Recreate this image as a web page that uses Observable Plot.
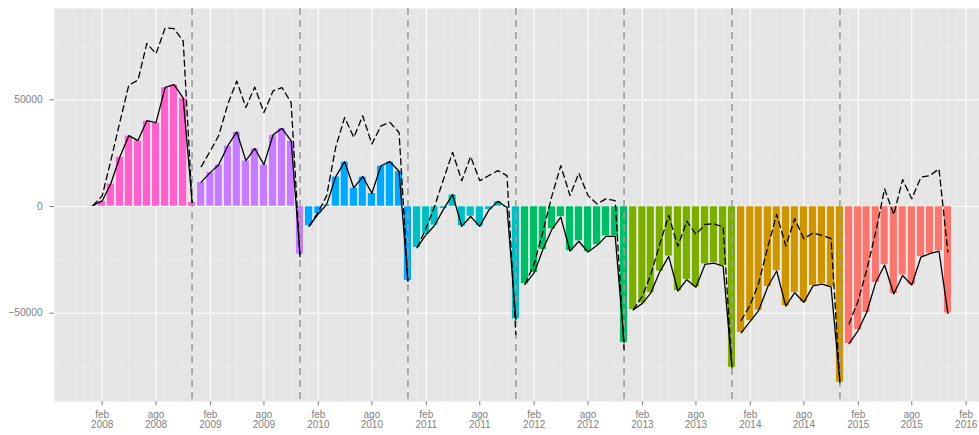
<!DOCTYPE html>
<html>
<head>
<meta charset="utf-8">
<script src="https://cdn.jsdelivr.net/npm/d3@7"></script>
<script src="https://cdn.jsdelivr.net/npm/@observablehq/plot@0.6"></script>
<style>
  html, body { margin: 0; padding: 0; background: #fff; }
  #chart svg { display: block; }
</style>
</head>
<body>
<div id="chart"></div>
<script>
// ---- data (monthly values) ----
const years = [2008, 2009, 2010, 2011, 2012, 2013, 2014, 2015];
const yearColors = ["#FF61CC", "#C77CFF", "#00A9FF", "#00BFC4", "#00BE67", "#7CAE00", "#CD9600", "#F8766D"];

// bars (= solid line), Jan..Dec
const solid2008 = [500, 2600, 10700, 23300, 33200, 30900, 40200, 39300, 55800, 57100, 50800, 2000];
const solid2009 = [11400, 16000, 19600, 28500, 35000, 21500, 27200, 19600, 33600, 36600, 30800, -22500];
const solid2010 = [-9200, -3400, 900, 14000, 21000, 8700, 14000, 6200, 19100, 21000, 16500, -34900];
const solid2011 = [-19300, -13100, -8900, -1100, 5600, -9300, -4700, -9300, -1600, 2400, -500, -52900];
const solid2012 = [-36400, -31100, -20300, -10700, -5000, -20900, -16300, -21300, -18200, -14000, -14000, -63800];
const solid2013 = [-48400, -45400, -40600, -30500, -23400, -39600, -34300, -37800, -27100, -26500, -28000, -75500];
const solid2014 = [-59200, -53700, -48800, -37600, -30200, -46700, -40400, -44900, -37200, -36400, -37700, -82500];
const solid2015 = [-64300, -58000, -49800, -35700, -27400, -41000, -32300, -36800, -23700, -22100, -20900, -50100];

// dashed line, Jan..Dec
const dashed2008 = [500, 5000, 21400, 39700, 56900, 59200, 76400, 71600, 83700, 83400, 77500, 2000];
const dashed2009 = [18700, 26100, 33200, 48000, 58800, 46400, 56000, 44000, 54200, 55700, 48700, -23500];
const dashed2010 = [-9200, -2500, 5000, 28000, 41700, 32400, 42500, 29300, 37800, 39400, 34700, -34900];
const dashed2011 = [-19300, -10000, 0, 13000, 25400, 12100, 23400, 12100, 14500, 16800, 14500, -60000];
const dashed2012 = [-36400, -27000, -12000, 5000, 19100, 5100, 15600, 5100, 1200, 3600, 2800, -67000];
const dashed2013 = [-48400, -42000, -32000, -17500, -4200, -18700, -6800, -13100, -8400, -8100, -9600, -75500];
const dashed2014 = [-53400, -46000, -36000, -19000, -3700, -18500, -5700, -15100, -12400, -13500, -15100, -82500];
const dashed2015 = [-55000, -44000, -30000, -12000, 8300, -3900, 12600, 3600, 13700, 14500, 17600, -21300];

// axis ticks and labels
const xTickLabels = ["feb\n2008", "ago\n2008", "feb\n2009", "ago\n2009", "feb\n2010", "ago\n2010",
  "feb\n2011", "ago\n2011", "feb\n2012", "ago\n2012", "feb\n2013", "ago\n2013",
  "feb\n2014", "ago\n2014", "feb\n2015", "ago\n2015", "feb\n2016"];
const xTickDates = xTickLabels.map((s, i) => new Date(Date.UTC(2008 + Math.floor(i / 2), i % 2 ? 7 : 1, 1)));
const yTicks = [-50000, 0, 50000];
const yTickLabels = ["\u221250000", "0", "50000"];
const yMinor = [-75000, -25000, 25000, 75000];
const breakDates = [2008, 2009, 2010, 2011, 2012, 2013, 2014].map(y => new Date(Date.UTC(y, 11, 1)));

// ---- build table ----
const solidByYear = [solid2008, solid2009, solid2010, solid2011, solid2012, solid2013, solid2014, solid2015];
const dashedByYear = [dashed2008, dashed2009, dashed2010, dashed2011, dashed2012, dashed2013, dashed2014, dashed2015];
const rows = [];
years.forEach((yr, yi) => {
  for (let m = 0; m < 12; m++) {
    rows.push({date: new Date(Date.UTC(yr, m, 1)), year: yr, solid: solidByYear[yi][m], dashed: dashedByYear[yi][m]});
  }
});

const DAY = 864e5;
const xStart = new Date(Date.UTC(2008, 1, 1) - 161.3 * DAY);
const xEnd = new Date(Date.UTC(2016, 1, 1) + 45 * DAY);
const minorMonths = d3.utcMonth.range(xStart, xEnd);
const xLabelMap = new Map(xTickDates.map((d, i) => [+d, xTickLabels[i]]));
const yLabelMap = new Map(yTicks.map((d, i) => [d, yTickLabels[i]]));

const grey = "#7F7F7F";
const chart = Plot.plot({
  width: 979,
  height: 435,
  marginLeft: 54,
  marginRight: 0,
  marginTop: 8,
  marginBottom: 34,
  style: {fontFamily: "'Liberation Sans', Arial, Helvetica, sans-serif", background: "#fff", overflow: "visible"},
  x: {type: "utc", domain: [xStart, xEnd], label: null},
  y: {domain: [-91378, 92784], label: null},
  color: {domain: years, range: yearColors},
  marks: [
    Plot.frame({fill: "#E5E5E5", stroke: null}),
    Plot.ruleY(yMinor, {stroke: "#F2F2F2", strokeWidth: 0.6}),
    Plot.ruleX(minorMonths, {stroke: "#F2F2F2", strokeWidth: 0.6}),
    Plot.ruleY(yTicks, {stroke: "#FFFFFF", strokeWidth: 1.1}),
    Plot.ruleX(xTickDates, {stroke: "#FFFFFF", strokeWidth: 1.1}),
    Plot.rect(rows, {
      x1: d => new Date(+d.date - 13.3 * DAY),
      x2: d => new Date(+d.date + 13.3 * DAY),
      y1: () => 0,
      y2: "solid",
      fill: "year",
      stroke: "#FFFFFF",
      strokeWidth: 0.5
    }),
    Plot.ruleX(breakDates, {stroke: "#9C9C9C", strokeWidth: 1.6, strokeDasharray: "7,5"}),
    Plot.line(rows, {x: "date", y: "dashed", z: "year", stroke: "#000", strokeWidth: 1.3, strokeDasharray: "6,4"}),
    Plot.line(rows, {x: "date", y: "solid", z: "year", stroke: "#000", strokeWidth: 1.3}),
    Plot.axisX(xTickDates, {
      tickFormat: d => xLabelMap.get(+d),
      tickSize: 4.3, tickPadding: 4.3, fontSize: 10, lineHeight: 1.06,
      color: grey, label: null
    }),
    Plot.axisY(yTicks, {
      tickFormat: d => yLabelMap.get(d),
      tickSize: 4.7, tickPadding: 7, fontSize: 10.3,
      color: grey, label: null
    })
  ]
});
document.getElementById("chart").appendChild(chart);
</script>
</body>
</html>
